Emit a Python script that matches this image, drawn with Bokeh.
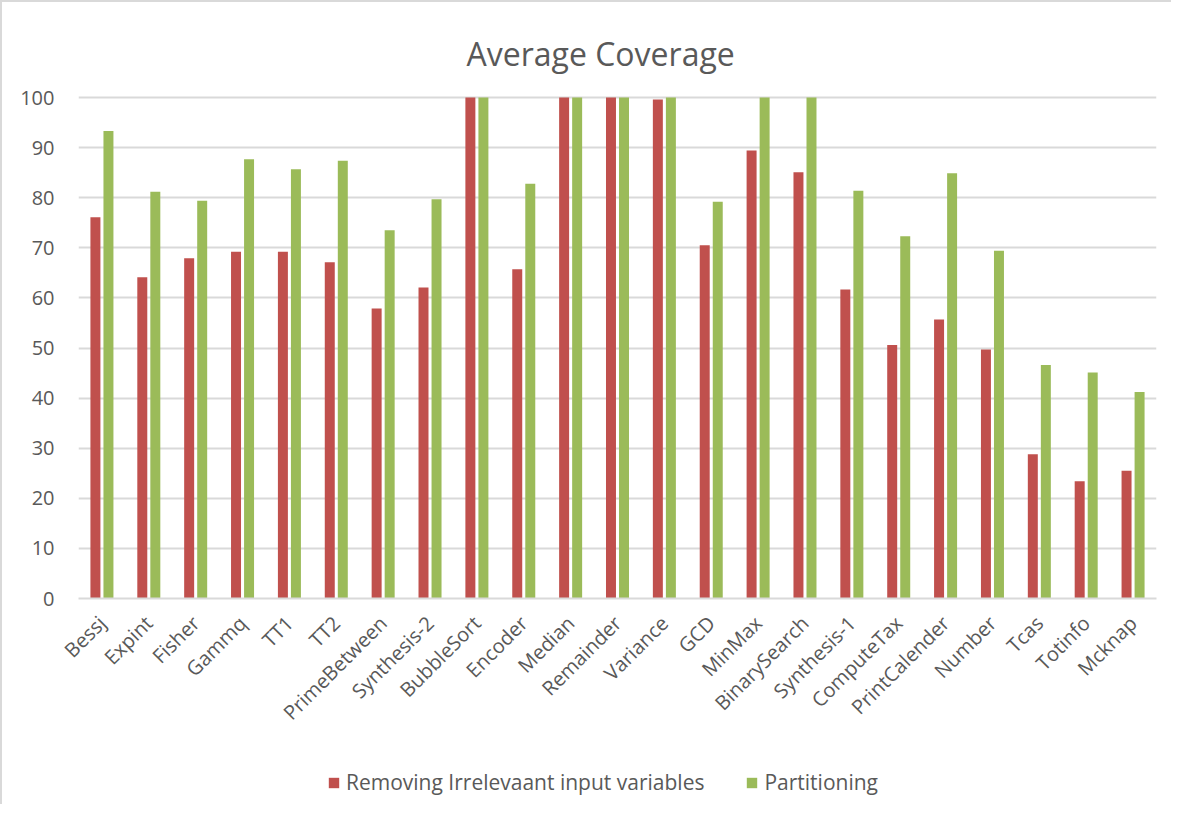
from bokeh.plotting import figure
from bokeh.models import ColumnDataSource, Range1d, FactorRange, Legend, LegendItem, SingleIntervalTicker
from bokeh.layouts import column
from bokeh.transform import dodge
from bokeh.embed import file_html
from bokeh.resources import INLINE
import math

categories = ["Bessj", "Expint", "Fisher", "Gammq", "TT1", "TT2", "PrimeBetween",
              "Synthesis-2", "BubbleSort", "Encoder", "Median", "Remainder", "Variance",
              "GCD", "MinMax", "BinarySearch", "Synthesis-1", "ComputeTax", "PrintCalender",
              "Number", "Tcas", "Totinfo", "Mcknap"]
removing = [76.1, 64.1, 67.9, 69.2, 69.2, 67.1, 57.9,
            62.1, 100, 65.7, 100, 100, 99.6,
            70.5, 89.4, 85.1, 61.7, 50.6, 55.7,
            49.7, 28.8, 23.4, 25.5]
partitioning = [93.3, 81.2, 79.4, 87.7, 85.7, 87.4, 73.5,
                79.7, 100, 82.8, 100, 100, 100,
                79.2, 100, 100, 81.4, 72.3, 84.9,
                69.4, 46.6, 45.1, 41.2]
series_names = ["Removing Irrelevaant input variables", "Partitioning"]
colors = ["#C0504D", "#9BBB59"]

FONT = "Open Sans"
TXT = "#595959"

src = ColumnDataSource(dict(cat=categories, r=removing, g=partitioning))

p = figure(width=1169, height=752, x_range=FactorRange(*categories, range_padding=0.0),
           y_range=Range1d(0, 100.4), output_backend="svg", toolbar_location=None,
           min_border_left=76, min_border_right=15, min_border_top=93, min_border_bottom=156)

p.title.text = "Average Coverage"
p.title.text_font = FONT
p.title.text_font_size = "32px"
p.title.text_font_style = "normal"
p.title.text_color = TXT
p.title.align = "left"
p.title.offset = 388
p.title.standoff = 42

p.vbar(x=dodge("cat", -0.139, range=p.x_range), top="r", width=0.213, source=src,
       fill_color=colors[0], line_color=None)
p.vbar(x=dodge("cat", 0.139, range=p.x_range), top="g", width=0.213, source=src,
       fill_color=colors[1], line_color=None)

p.outline_line_color = None
p.xgrid.grid_line_color = None
p.ygrid.grid_line_color = "#D9D9D9"
p.ygrid.grid_line_width = 2
p.yaxis.ticker = SingleIntervalTicker(interval=10)
p.yaxis.axis_line_color = None
p.yaxis.major_tick_line_color = None
p.yaxis.minor_tick_line_color = None
p.yaxis.major_label_text_font = FONT
p.yaxis.major_label_text_font_size = "20px"
p.yaxis.major_label_text_color = TXT
p.yaxis.major_label_standoff = 18

p.xaxis.axis_line_color = "#D9D9D9"
p.xaxis.axis_line_width = 2
p.xaxis.major_tick_line_color = None
p.xaxis.minor_tick_line_color = None
p.xaxis.major_label_text_font = FONT
p.xaxis.major_label_text_font_size = "20px"
p.xaxis.major_label_text_color = TXT
p.xaxis.major_label_orientation = math.pi / 4
p.xaxis.major_label_standoff = 15

# legend strip below the chart
lg = figure(width=1169, height=50, x_range=Range1d(0, 1), y_range=Range1d(0, 1),
            output_backend="svg", toolbar_location=None,
            x_axis_location=None, y_axis_location=None,
            min_border_left=0, min_border_right=0, min_border_top=0, min_border_bottom=0)
lg.grid.visible = False
lg.outline_line_color = None
hidden = ColumnDataSource(dict(x=[-10], top=[-10]))
lr = lg.vbar(x="x", top="top", width=0.1, source=hidden, fill_color=colors[0], line_color=None)
lgn = lg.vbar(x="x", top="top", width=0.1, source=hidden, fill_color=colors[1], line_color=None)

legend = Legend(items=[LegendItem(label=series_names[0], renderers=[lr]),
                       LegendItem(label=series_names[1], renderers=[lgn])],
                orientation="horizontal", location=(249, 8))
legend.label_text_font = FONT
legend.label_text_font_size = "21px"
legend.label_text_color = TXT
legend.glyph_width = 13
legend.glyph_height = 13
legend.label_standoff = 6
legend.spacing = 41
legend.padding = 0
legend.margin = 0
legend.border_line_color = None
legend.background_fill_alpha = 0
lg.add_layout(legend)

layout = column(p, lg, spacing=0)
layout.styles = {"border-left": "2px solid #D9D9D9", "border-top": "2px solid #D9D9D9"}

open("out.html", "w").write(file_html(layout, INLINE))
